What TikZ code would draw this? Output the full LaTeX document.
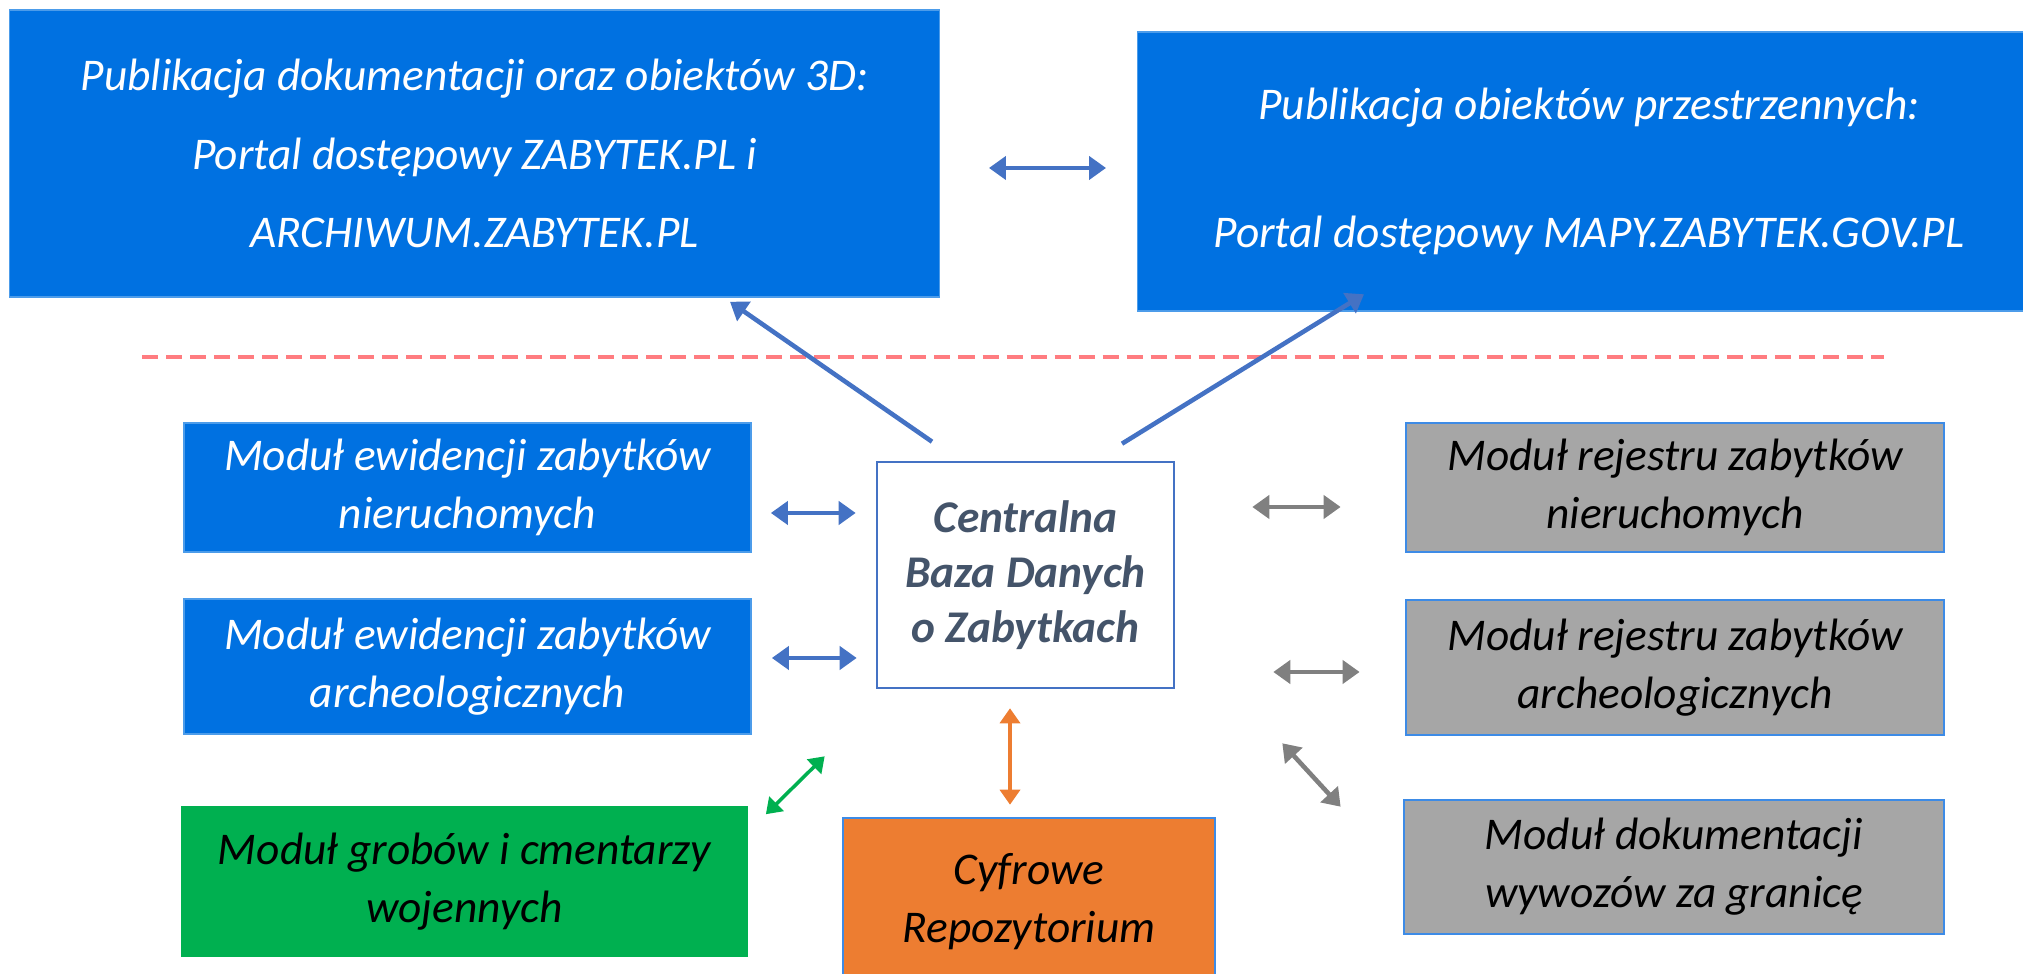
\documentclass[tikz,border=0pt]{standalone}
\usepackage{fontspec}
\setmainfont{Carlito}
\usetikzlibrary{positioning,calc,arrows.meta}
\usepackage{xcolor}

\definecolor{kolModul}{HTML}{0071E1}
\definecolor{kolZiel}{HTML}{00B050}
\definecolor{kolPom}{HTML}{ED7D31}
\definecolor{kolSzary}{HTML}{A6A6A6}
\definecolor{kolRamka}{HTML}{3D8BE6}
\definecolor{kolStrz}{HTML}{4472C4}
\definecolor{kolSzStrz}{HTML}{808080}
\definecolor{kolTekst}{HTML}{44546A}
\definecolor{kolKresk}{HTML}{FF7C80}

\begin{document}
\begin{tikzpicture}[x=0.01cm,y=-0.01cm,
            grot/.tip={Triangle[length=1.7mm,width=2.3mm]},
            grotm/.tip={Triangle[length=1.5mm,width=2mm]},
            blok/.style={rectangle,inner sep=0pt,align=center,font=\fontsize{12.9}{16.5}\selectfont\itshape},
            niebieski/.style={blok,fill=kolModul,draw=kolModul!70!white,line width=0.4pt,text=white},
            zielony/.style={blok,fill=kolZiel,text=black},
            szary/.style={blok,fill=kolSzary,draw=kolRamka,line width=0.7pt,text=black},
            pomar/.style={blok,fill=kolPom,draw=kolRamka,line width=0.7pt,text=black},
            centrum/.style={blok,fill=white,draw=kolStrz,line width=0.7pt,text=kolTekst,font=\fontsize{12.9}{15.6}\selectfont\bfseries\itshape},
            strzN/.style={grot-grot,draw=kolStrz,line width=1.3pt},
            strzJ/.style={-grot,draw=kolStrz,line width=1.3pt},
            strzS/.style={grot-grot,draw=kolSzStrz,line width=1.3pt},
            strzZ/.style={grotm-grotm,draw=kolZiel,line width=1pt},
            strzP/.style={grotm-grotm,draw=kolPom,line width=1pt}]

            \useasboundingbox (0,0) rectangle (2023,974);

            % gora - publikacja
            \node[niebieski,minimum width=9.29cm,minimum height=2.87cm,font=\fontsize{12.9}{22.2}\selectfont\itshape] (pubdok) at (474.5,153.5) {Publikacja dokumentacji oraz obiektów 3D:\\ Portal dostępowy ZABYTEK.PL i\\ ARCHIWUM.ZABYTEK.PL};
            \node[niebieski,minimum width=9.02cm,minimum height=2.79cm] (pubmapy) at (1589,171.5) {Publikacja obiektów przestrzennych:\\[0.7cm] Portal dostępowy MAPY.ZABYTEK.GOV.PL};

            \draw[kolKresk,line width=1.2pt,dash pattern=on 0.16cm off 0.08cm] (142,357) -- (1884,357);

            % moduly
            \node[centrum,minimum width=2.97cm,minimum height=2.26cm] (cbdz) at (1025.5,575) {Centralna\\ Baza Danych\\ o Zabytkach};
            \node[niebieski,minimum width=5.67cm,minimum height=1.29cm] (ewnier) at (467.5,487.5) {Moduł ewidencji zabytków\\ nieruchomych};
            \node[niebieski,minimum width=5.67cm,minimum height=1.35cm] (ewarch) at (467.5,666.5) {Moduł ewidencji zabytków\\ archeologicznych};
            \node[zielony,minimum width=5.67cm,minimum height=1.51cm] (groby) at (464.5,881.5) {Moduł grobów i cmentarzy\\ wojennych};
            \node[pomar,minimum width=3.72cm,minimum height=1.67cm] (repo) at (1029,901.5) {Cyfrowe\\ Repozytorium};
            \node[szary,minimum width=5.38cm,minimum height=1.29cm] (rejnier) at (1675,487.5) {Moduł rejestru zabytków\\ nieruchomych};
            \node[szary,minimum width=5.38cm,minimum height=1.35cm] (rejarch) at (1675,667.5) {Moduł rejestru zabytków\\ archeologicznych};
            \node[szary,minimum width=5.40cm,minimum height=1.34cm] (wywozy) at (1674,867) {Moduł dokumentacji\\ wywozów za granicę};

            % polaczenia
            \draw[strzN] ($(pubdok.east)+(49,14.5)$) -- ($(pubmapy.west)+(-31,-3.5)$);
            \draw[strzJ] ($(cbdz.north)+(-93.5,-19)$) -- ($(pubdok.south)+(255.5,4)$);
            \draw[strzJ] ($(cbdz.north)+(96.5,-17)$) -- ($(pubmapy.south)+(-225,-17.5)$);
            \draw[strzN] ($(ewnier.east)+(19,25.5)$) -- ($(cbdz.west)+(-20,-62)$);
            \draw[strzN] ($(ewarch.east)+(20,-8.5)$) -- ($(cbdz.west)+(-19,83)$);
            \draw[strzZ] ($(groby.north east)+(17,9)$) -- ($(cbdz.south west)+(-51,67)$);
            \draw[strzP] ($(cbdz.south)+(-15.5,19)$) -- ($(repo.north)+(-19,-12)$);
            \draw[strzS] ($(cbdz.east)+(77,-68)$) -- ($(rejnier.west)+(-64,19.5)$);
            \draw[strzS] ($(cbdz.east)+(98,97)$) -- ($(rejarch.west)+(-45,4.5)$);
            \draw[strzS] ($(cbdz.south east)+(107,54)$) -- ($(wywozy.north west)+(-62,8)$);
\end{tikzpicture}
\end{document}
